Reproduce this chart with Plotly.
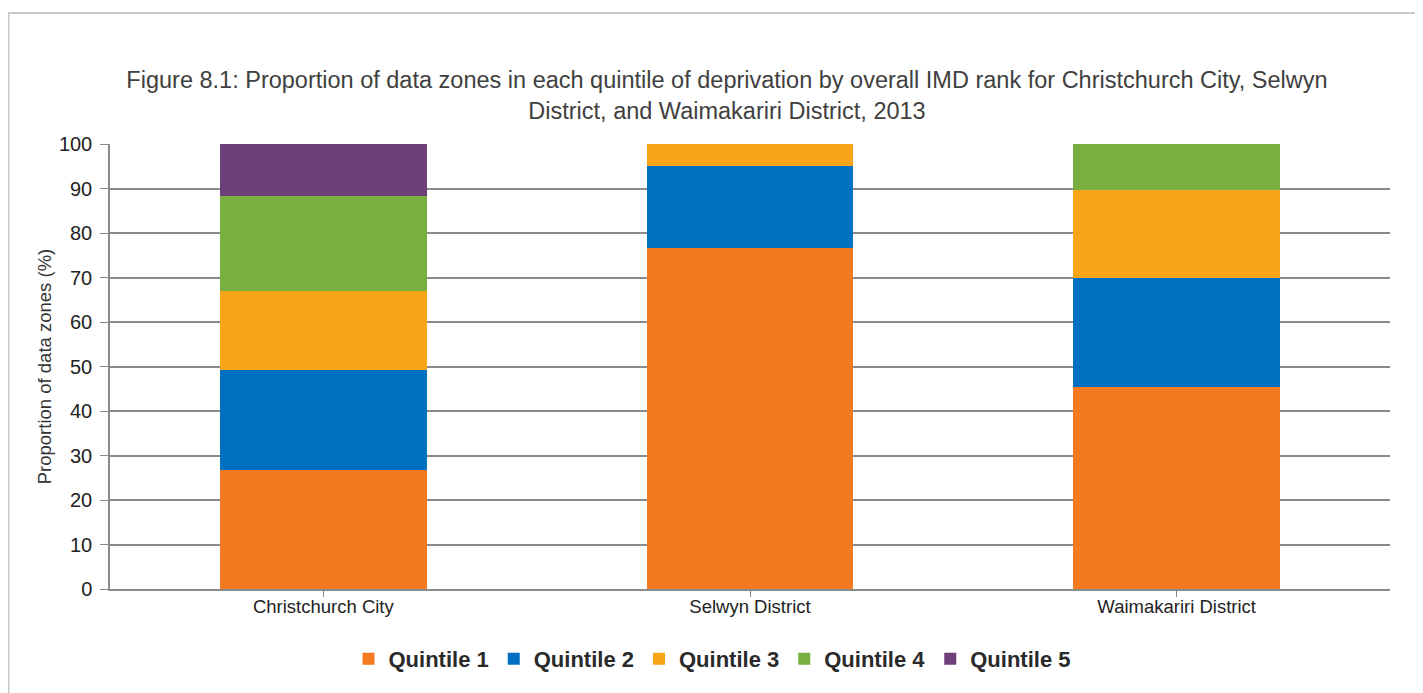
import plotly.graph_objects as go

categories = ["Christchurch City", "Selwyn District", "Waimakariri District"]
series_names = ["Quintile 1", "Quintile 2", "Quintile 3", "Quintile 4", "Quintile 5"]
q1 = [26.7, 76.6, 45.3]
q2 = [22.5, 18.4, 24.7]
q3 = [17.8, 5.0, 19.7]
q4 = [21.4, 0.0, 10.3]
q5 = [11.6, 0.0, 0.0]
colors = ["#F47920", "#0070C0", "#F9A51A", "#77AF41", "#6D3F7B"]

W, H = 1423, 693
L, T, R, B = 102, 136, 41, 112
PW, PH = W - L - R, H - T - B

fig = go.Figure()
for name, vals, col in zip(series_names, [q1, q2, q3, q4, q5], colors):
    fig.add_trace(go.Bar(x=categories, y=vals, name=name,
                         marker=dict(color=col, line=dict(width=0))))

fig.update_layout(
    width=W, height=H,
    barmode="stack", bargap=0.516,
    paper_bgcolor="white", plot_bgcolor="white",
    font=dict(family="Liberation Sans, Arial, sans-serif", color="#222"),
    margin=dict(l=L, r=R, t=T, b=B, autoexpand=False),
    title=dict(
        text="Figure 8.1: Proportion of data zones in each quintile of deprivation by overall IMD rank for Christchurch City, Selwyn<br>District, and Waimakariri District, 2013",
        x=719 / W, xanchor="center", y=1 - 80 / H, yanchor="middle",
        font=dict(size=23.5, color="#404040")),
    legend=dict(orientation="h", x=(704 - L) / PW, xanchor="center",
                y=-(651 - (H - B)) / PH, yanchor="middle",
                font=dict(size=22, color="#2a2a2a", weight="bold"), traceorder="normal",
                itemwidth=30),
    showlegend=True,
)
fig.update_yaxes(range=[0, 100], dtick=10, showgrid=True, gridcolor="#8a8a8a", gridwidth=1.5,
                 showline=True, linecolor="#8a8a8a", linewidth=1.5,
                 ticks="outside", ticklen=8, tickcolor="#8a8a8a", ticklabelstandoff=4,
                 tickfont=dict(size=20, color="#222"),
                 title=dict(text="Proportion of data zones (%)", font=dict(size=18.5, color="#333"), standoff=2),
                 zeroline=False)
fig.update_xaxes(showline=True, linecolor="#8a8a8a", linewidth=1.5,
                 ticks="outside", ticklen=6, tickcolor="#8a8a8a", ticklabelstandoff=-6,
                 tickfont=dict(size=18.5, color="#222"))

fig.add_shape(type="rect", xref="paper", yref="paper",
              x0=(0.5 - L) / PW, x1=(W + 20 - L) / PW,
              y0=-(H + 20 - (H - B)) / PH, y1=((H - B) - 5) / PH,
              line=dict(color="#c8c8c8", width=2), fillcolor="rgba(0,0,0,0)", layer="below")

fig.write_html("out.html")
